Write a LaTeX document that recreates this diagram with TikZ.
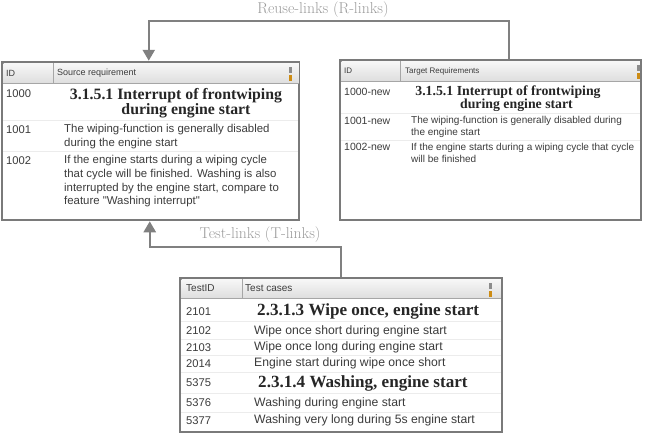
\documentclass[tikz,border=0pt]{standalone}
\usepackage{fontspec}
\usepackage{tikz}
\usetikzlibrary{arrows.meta}
\newfontfamily\uifont{Liberation Sans}
\newfontfamily\hfont{Liberation Serif}
\definecolor{linkgray}{RGB}{128,128,128}
\definecolor{labgray}{RGB}{155,155,155}
\definecolor{framegray}{RGB}{122,122,122}
\definecolor{txtgray}{RGB}{60,60,60}
\definecolor{hdtop}{RGB}{247,247,247}
\definecolor{hdbot}{RGB}{222,222,222}
\definecolor{rowline}{RGB}{236,236,236}
\definecolor{icongray}{RGB}{140,140,140}
\definecolor{iconorange}{RGB}{205,140,20}

\begin{document}
\begin{tikzpicture}[x=1pt,y=-1pt,
fr/.style={draw=framegray,line width=2.5pt,fill=white,inner sep=0pt},
hd/.style={top color=hdtop,bottom color=hdbot},
hl/.style={draw=black!35,line width=.6pt},
sep/.style={draw=rowline,line width=.6pt},
hx/.style 2 args={anchor=west,inner sep=0pt,text=txtgray,font=\uifont\fontsize{#1}{#2}\selectfont},
id/.style 2 args={anchor=west,inner sep=0pt,text=txtgray,font=\uifont\fontsize{#1}{#2}\selectfont},
tx/.style 2 args={anchor=west,inner sep=0pt,align=left,text=txtgray,font=\uifont\fontsize{#1}{#2}\selectfont},
ti/.style 2 args={inner sep=0pt,align=center,text=black!85,font=\hfont\bfseries\fontsize{#1}{#2}\selectfont},
a/.style={-{Triangle[length=11pt,width=12pt]},line width=2.5pt,draw=linkgray},
l/.style={text=labgray,inner sep=0pt,font=\fontsize{15.7}{18}\selectfont}]
\useasboundingbox (0,0) rectangle (651,437);
% the three tables
\node[fr,minimum width=297pt,minimum height=158pt] (src) at (150.5,141) {};
\node[fr,minimum width=301pt,minimum height=160pt] (tgt) at (490.5,140) {};
\node[fr,minimum width=322pt,minimum height=154pt] (tst) at (341,355) {};
% headers
\fill[hd] (3.25,63.25) rectangle (298.75,83);\draw[hl] (3.25,83)--(298.75,83);\draw[hl] (53,63.25)--(53,83);
\fill[hd] (341.25,61.25) rectangle (639.75,81);\draw[hl] (341.25,81)--(639.75,81);\draw[hl] (400,61.25)--(400,81);
\fill[hd] (181.25,279.25) rectangle (500.75,298);\draw[hl] (181.25,298)--(500.75,298);\draw[hl] (242,279.25)--(242,298);
\fill[icongray] (289,67) rectangle (291.5,73);\fill[iconorange] (289,74.5) rectangle (291.5,80.5);
\fill[icongray] (637,65) rectangle (639.5,71);\fill[iconorange] (637,72.5) rectangle (639.5,78.5);
\fill[icongray] (489,283) rectangle (491.5,289);\fill[iconorange] (489,290.5) rectangle (491.5,296.5);
\draw[sep] (3,120)--(298,120);\draw[sep] (3,151.5)--(298,151.5);
\draw[sep] (341,113)--(640,113);\draw[sep] (341,140)--(640,140);
\draw[sep] (181,321)--(501,321);\draw[sep] (181,339.5)--(501,339.5);\draw[sep] (181,355.5)--(501,355.5);
\draw[sep] (181,372)--(501,372);\draw[sep] (181,393)--(501,393);\draw[sep] (181,412)--(501,412);
% source requirements
\node[hx={9}{11}] (sidh) at (6,73) {ID};\node[hx={9}{11}] (srch) at (57,73) {Source requirement};
\node[id={11.2}{14}] (s1) at (6,94) {1000};
\node[id={11.2}{14}] (s2) at (6,130) {1001};
\node[id={11.2}{14}] (s3) at (6,161) {1002};
\node[ti={15.8}{15.5}] (s1t) at (176,103) {3.1.5.1 Interrupt of frontwiping\\\hspace*{20pt}during engine start};
\node[tx={11.4}{14}] (s2t) at (64,137) {The wiping-function is generally disabled\\during the engine start};
\node[tx={11.4}{13.6}] (s3t) at (64,181.4) {If the engine starts during a wiping cycle\\that cycle will be finished. Washing is also\\interrupted by the engine start, compare to\\feature "Washing interrupt"};
% target requirements
\node[hx={8}{10}] (tidh) at (344,71) {ID};\node[hx={8}{10}] (tgth) at (405,71) {Target Requirements};
\node[id={10.5}{13}] (t1) at (344,92) {1000-new};
\node[id={10.5}{13}] (t2) at (344,121) {1001-new};
\node[id={10.5}{13}] (t3) at (344,146.7) {1002-new};
\node[ti={13.8}{13.5}] (t1t) at (508,98.5) {3.1.5.1 Interrupt of frontwiping\\\hspace*{17pt}during engine start};
\node[tx={10}{12.3}] (t2t) at (411,127) {The wiping-function is generally disabled during\\the engine start};
\node[tx={10}{12.3}] (t3t) at (411,153) {If the engine starts during a wiping cycle that cycle\\will be finished};
% test cases
\node[hx={10}{12}] (cidh) at (186,288) {TestID};\node[hx={10}{12}] (tch) at (245,288) {Test cases};
\node[id={11.2}{14}] (c1) at (186,311.7) {2101};
\node[id={11.2}{14}] (c2) at (186,331) {2102};
\node[id={11.2}{14}] (c3) at (186,347.7) {2103};
\node[id={11.2}{14}] (c4) at (186,363.5) {2014};
\node[id={11.2}{14}] (c5) at (186,383) {5375};
\node[id={11.2}{14}] (c6) at (186,403) {5376};
\node[id={11.2}{14}] (c7) at (186,420.5) {5377};
\node[ti={17.1}{18},anchor=west] (c1t) at (257,311.5) {2.3.1.3 Wipe once, engine start};
\node[tx={12.2}{14}] (c2t) at (254,331) {Wipe once short during engine start};
\node[tx={12.2}{14}] (c3t) at (254,347.7) {Wipe once long during engine start};
\node[tx={12.2}{14}] (c4t) at (254,363.5) {Engine start during wipe once short};
\node[ti={17.1}{18},anchor=west] (c5t) at (258,383) {2.3.1.4 Washing, engine start};
\node[tx={12.2}{14}] (c6t) at (254,403) {Washing during engine start};
\node[tx={12.2}{14}] (c7t) at (254,420.5) {Washing very long during 5s engine start};
% links
\draw[a] ([xshift=170pt]tgt.north west)--++(0,-38)-|([xshift=148pt]src.north west);
\draw[a] ([xshift=162pt]tst.north west)--++(0,-30)-|([xshift=149pt]src.south west);
\node[l] (rl) at (323,10) {Reuse-links (R-links)};
\node[l] (tl) at (260,235) {Test-links (T-links)};
\end{tikzpicture}
\end{document}
